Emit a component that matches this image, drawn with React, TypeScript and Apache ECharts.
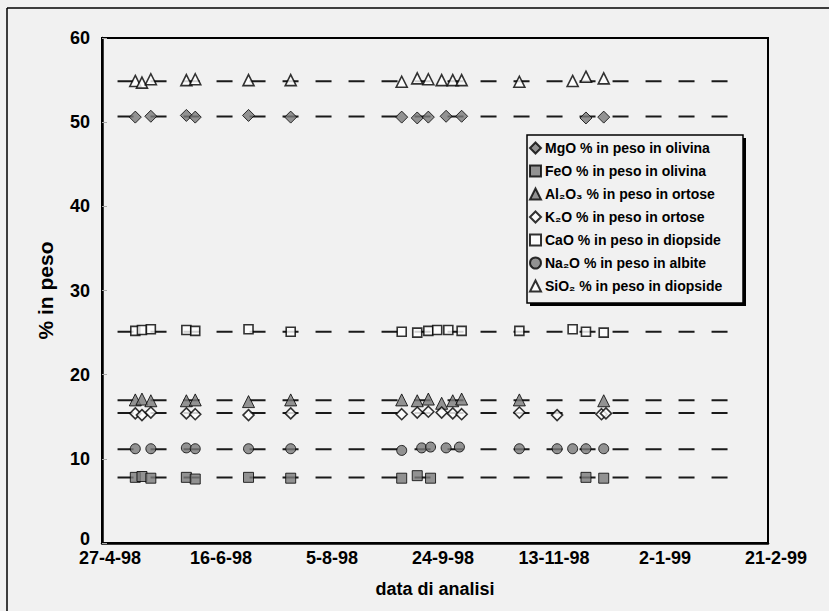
import React, { useEffect, useRef } from "react";
import * as echarts from "echarts";

// x tick labels (every 50 days from 27-4-98)
const TICK_LABELS = ["27-4-98", "16-6-98", "5-8-98", "24-9-98", "13-11-98", "2-1-99", "21-2-99"];
const Y_TICKS_MAX = 60;

// series names
const NAMES = [
  "MgO % in peso in olivina",
  "FeO % in peso in olivina",
  "Al₂O₃ % in peso in ortose",
  "K₂O % in peso in ortose",
  "CaO % in peso in diopside",
  "Na₂O % in peso in albite",
  "SiO₂ % in peso in diopside",
];

// MgO in olivina
const MGO_DATES = ["12-5-98", "19-5-98", "4-6-98", "8-6-98", "2-7-98", "21-7-98", "9-9-98", "16-9-98", "21-9-98", "29-9-98", "6-10-98", "1-12-98", "9-12-98"];
const MGO_VALUES = [50.6, 50.7, 50.8, 50.6, 50.8, 50.6, 50.6, 50.5, 50.6, 50.7, 50.7, 50.5, 50.6];

// FeO in olivina
const FEO_DATES = ["12-5-98", "15-5-98", "19-5-98", "4-6-98", "8-6-98", "2-7-98", "21-7-98", "9-9-98", "16-9-98", "22-9-98", "1-12-98", "9-12-98"];
const FEO_VALUES = [7.8, 7.9, 7.7, 7.8, 7.6, 7.8, 7.7, 7.7, 8.0, 7.7, 7.8, 7.7];

// Al2O3 in ortose
const AL2O3_DATES = ["12-5-98", "15-5-98", "19-5-98", "4-6-98", "8-6-98", "2-7-98", "21-7-98", "9-9-98", "16-9-98", "21-9-98", "27-9-98", "2-10-98", "6-10-98", "1-11-98", "9-12-98"];
const AL2O3_VALUES = [17.0, 17.1, 16.9, 16.9, 17.0, 16.8, 17.0, 17.0, 16.9, 17.1, 16.6, 16.9, 17.1, 17.0, 16.9];

// K2O in ortose
const K2O_DATES = ["12-5-98", "15-5-98", "19-5-98", "4-6-98", "8-6-98", "2-7-98", "21-7-98", "9-9-98", "16-9-98", "21-9-98", "27-9-98", "2-10-98", "6-10-98", "1-11-98", "18-11-98", "8-12-98", "10-12-98"];
const K2O_VALUES = [15.4, 15.2, 15.5, 15.4, 15.3, 15.2, 15.4, 15.3, 15.5, 15.6, 15.5, 15.4, 15.3, 15.5, 15.2, 15.3, 15.4];

// CaO in diopside
const CAO_DATES = ["12-5-98", "15-5-98", "19-5-98", "4-6-98", "8-6-98", "2-7-98", "21-7-98", "9-9-98", "16-9-98", "21-9-98", "25-9-98", "30-9-98", "6-10-98", "1-11-98", "25-11-98", "1-12-98", "9-12-98"];
const CAO_VALUES = [25.2, 25.3, 25.4, 25.3, 25.2, 25.4, 25.1, 25.1, 25.0, 25.2, 25.3, 25.3, 25.2, 25.2, 25.4, 25.1, 25.0];

// Na2O in albite
const NA2O_DATES = ["12-5-98", "19-5-98", "4-6-98", "8-6-98", "2-7-98", "21-7-98", "9-9-98", "18-9-98", "22-9-98", "29-9-98", "5-10-98", "1-11-98", "18-11-98", "25-11-98", "1-12-98", "9-12-98"];
const NA2O_VALUES = [11.2, 11.2, 11.3, 11.2, 11.2, 11.2, 11.0, 11.3, 11.4, 11.3, 11.4, 11.2, 11.2, 11.2, 11.2, 11.2];

// SiO2 in diopside
const SIO2_DATES = ["12-5-98", "15-5-98", "19-5-98", "4-6-98", "8-6-98", "2-7-98", "21-7-98", "9-9-98", "16-9-98", "21-9-98", "27-9-98", "2-10-98", "6-10-98", "1-11-98", "25-11-98", "1-12-98", "9-12-98"];
const SIO2_VALUES = [54.9, 54.7, 55.1, 55.0, 55.1, 55.0, 55.0, 54.8, 55.2, 55.1, 55.0, 55.0, 55.0, 54.8, 54.9, 55.4, 55.2];

// dashed trend lines (level per series, same order as NAMES) and their date span
const TREND_LEVELS = [50.67, 7.78, 16.97, 15.46, 25.1, 11.15, 54.85];
const TREND_START = "4-5-98";
const TREND_END = "4-2-99";

const BG = "#f1f1f1";
const FONT = "'Liberation Sans', Arial, Helvetica, sans-serif";

function dayOf(s: string): number {
  const [d, m, y] = s.split("-").map(Number);
  const year = y < 50 ? 2000 + y : 1900 + y;
  return Math.round((Date.UTC(year, m - 1, d) - Date.UTC(1998, 3, 27)) / 86400000);
}

function pts(dates: string[], values: number[]) {
  return dates.map((d, i) => [dayOf(d), values[i]]);
}

export default function App() {
  const ref = useRef<HTMLDivElement>(null);
  useEffect(() => {
    if (!ref.current) return;
    const chart = echarts.init(ref.current, undefined, { renderer: "svg" });
    const gray = "#7a7a7a";
    const filled = { color: gray, borderColor: "#000", borderWidth: 1 };
    const open = { color: "#ffffff", borderColor: "#000", borderWidth: 1.6 };
    const scatterDefs = [
      { data: pts(MGO_DATES, MGO_VALUES), symbol: "diamond", size: 12, style: filled },
      { data: pts(FEO_DATES, FEO_VALUES), symbol: "rect", size: 10, style: filled },
      { data: pts(AL2O3_DATES, AL2O3_VALUES), symbol: "triangle", size: 12, style: filled },
      { data: pts(K2O_DATES, K2O_VALUES), symbol: "diamond", size: 11, style: open },
      { data: pts(CAO_DATES, CAO_VALUES), symbol: "rect", size: 9, style: open },
      { data: pts(NA2O_DATES, NA2O_VALUES), symbol: "circle", size: 10, style: filled },
      { data: pts(SIO2_DATES, SIO2_VALUES), symbol: "triangle", size: 11, style: open },
    ];
    const lineSeries = TREND_LEVELS.map((lv, i) => ({
      type: "line",
      name: "trend" + i,
      data: [[dayOf(TREND_START), lv], [dayOf(TREND_END), lv]],
      symbol: "none",
      silent: true,
      z: 1,
      lineStyle: { color: "#1a1a1a", width: 2, type: [16, 17] },
    }));
    const scatterSeries = scatterDefs.map((d, i) => ({
      type: "scatter",
      name: NAMES[i],
      data: d.data,
      symbol: d.symbol,
      symbolSize: d.size,
      itemStyle: d.style,
      z: 3,
    }));
    const labelStyle = { fontSize: 18, fontWeight: "bold", color: "#000", fontFamily: FONT };
    chart.setOption({
      animation: false,
      backgroundColor: BG,
      textStyle: { fontFamily: FONT },
      grid: { left: 102, top: 38, right: 61, bottom: 68, show: true, borderColor: "#000", borderWidth: 2, backgroundColor: "transparent" },
      xAxis: {
        type: "value",
        min: 0,
        max: 300,
        interval: 50,
        name: "data di analisi",
        nameLocation: "middle",
        nameGap: 37,
        nameTextStyle: { ...labelStyle },
        axisLine: { lineStyle: { color: "#000", width: 2.5 } },
        axisTick: { show: false },
        splitLine: { show: false },
        axisLabel: {
          ...labelStyle,
          formatter: (v: number) => TICK_LABELS[Math.round(v / 50)] ?? "",
          margin: 8,
          lineHeight: 14,
          padding: [0, 0, 0, 16],
          showMaxLabel: true,
          showMinLabel: true,
        },
      },
      yAxis: {
        type: "value",
        min: 0,
        max: Y_TICKS_MAX,
        interval: 10,
        name: "% in peso",
        nameLocation: "middle",
        nameGap: 46,
        nameTextStyle: { ...labelStyle, fontSize: 21 },
        axisLine: { show: true, lineStyle: { color: "#000", width: 2.5 } },
        axisTick: { show: true, inside: true, length: 5, lineStyle: { color: "#aaa", width: 1 } },
        splitLine: { show: false },
        axisLabel: {
          ...labelStyle,
          formatter: (v: number) => (v === 0 ? "{z|0}" : String(v)),
          rich: { z: { ...labelStyle, lineHeight: 12, padding: [0, 0, 9, 0] } },
          lineHeight: 12,
          margin: 12,
        },
      },
      legend: {
        data: NAMES,
        orient: "vertical",
        left: 529,
        top: 141,
        padding: 0,
        itemWidth: 11,
        itemHeight: 11,
        itemGap: 9,
        z: 20,
        textStyle: { fontSize: 14, fontWeight: "bold", color: "#000", fontFamily: FONT, lineHeight: 14, padding: [0, 0, 0, -1] },
      },
      graphic: [
        { type: "line", shape: { x1: 7, y1: 8, x2: 829, y2: 8 }, style: { stroke: "#000", lineWidth: 1.5 }, z: 5 },
        { type: "line", shape: { x1: 7, y1: 8, x2: 7, y2: 611 }, style: { stroke: "#000", lineWidth: 1.5 }, z: 5 },
        { type: "rect", shape: { x: 530, y: 138, width: 216, height: 168 }, style: { fill: "#000" }, z: 10 },
        { type: "rect", shape: { x: 527, y: 135, width: 216, height: 168 }, style: { fill: BG, stroke: "#000", lineWidth: 1.5 }, z: 11 },
      ],
      series: [...lineSeries, ...scatterSeries],
    });
    return () => chart.dispose();
  }, []);
  return (
    <div style={{ position: "absolute", left: 0, top: 0, width: 829, height: 611, background: BG }}>
      <div ref={ref} style={{ width: 829, height: 611 }} />
    </div>
  );
}
